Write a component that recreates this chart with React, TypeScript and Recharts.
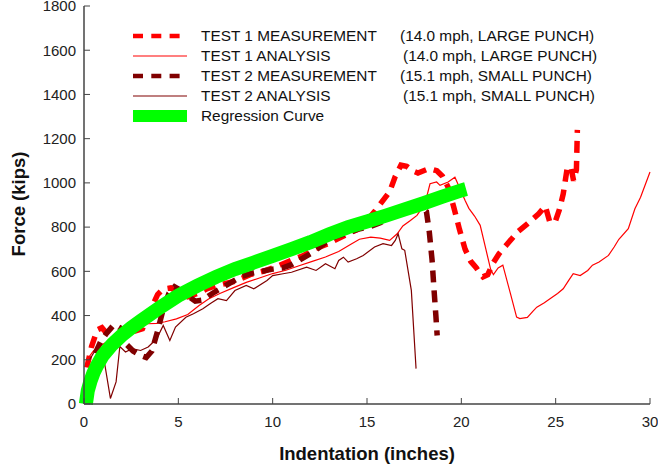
import { LineChart, Line, XAxis, YAxis, Legend } from 'recharts'

const FONT = '"Liberation Sans", Arial, sans-serif'

const xTicks = [0, 5, 10, 15, 20, 25, 30]
const yTicks = [0, 200, 400, 600, 800, 1000, 1200, 1400, 1600, 1800]

// TEST 1 MEASUREMENT (14.0 mph, large punch)
const t1mX = [0.15, 0.4, 0.7, 0.95, 1.2, 1.5, 1.9, 2.3, 2.7, 3.1, 3.5, 3.9, 4.2, 4.6, 5.0, 5.5, 6.0, 6.5, 7.0, 7.5, 8.0, 8.8, 9.5, 10.3, 11.0, 11.6, 12.2, 12.8, 13.4, 14.0, 14.5, 15.0, 15.4, 15.8, 16.2, 16.5, 16.8, 17.1, 17.4, 17.7, 18.0, 18.3, 18.7, 19.0, 19.3, 19.6, 19.9, 20.2, 20.5, 20.8, 21.0, 21.15, 21.4, 21.7, 22.0, 22.4, 22.7, 23.0, 23.5, 24.1, 24.45, 24.7, 25.0, 25.2, 25.4, 25.6, 25.8, 25.95, 26.1, 26.15]
const t1mY = [165, 260, 335, 345, 320, 300, 310, 325, 330, 340, 420, 495, 520, 525, 505, 485, 500, 520, 535, 545, 555, 585, 600, 625, 650, 670, 700, 720, 745, 770, 790, 830, 870, 915, 960, 1030, 1080, 1075, 1055, 1045, 1055, 1065, 1055, 1030, 980, 890, 790, 700, 645, 615, 590, 575, 585, 640, 680, 720, 750, 780, 815, 860, 895, 820, 830, 880, 950, 1060, 1075, 1010, 1060, 1240]

// TEST 1 ANALYSIS
const t1aX = [0.15, 0.5, 0.85, 1.2, 1.55, 2.0, 2.6, 3.0, 3.4, 3.85, 4.3, 4.9, 5.5, 6.1, 6.6, 7.2, 7.9, 8.6, 9.3, 10.0, 10.7, 11.4, 12.1, 12.8, 13.5, 14.1, 14.6, 15.2, 15.7, 16.2, 16.6, 16.9, 17.3, 17.65, 18.07, 18.34, 18.69, 18.87, 19.3, 19.66, 19.93, 20.2, 20.4, 20.7, 21.0, 21.3, 21.55, 21.7, 21.95, 22.2, 22.6, 22.93, 23.1, 23.5, 23.8, 24.0, 24.4, 24.7, 25.1, 25.4, 25.7, 25.93, 26.3, 26.7, 26.95, 27.3, 27.8, 28.1, 28.35, 28.85, 29.2, 29.5, 30.0]
const t1aY = [200, 240, 262, 280, 300, 325, 355, 362, 363, 365, 372, 385, 405, 445, 475, 500, 525, 550, 570, 590, 605, 625, 645, 665, 690, 720, 745, 755, 750, 740, 770, 805, 830, 853, 906, 996, 1004, 989, 1004, 1026, 974, 920, 885, 850, 808, 700, 610, 585, 615, 628, 500, 393, 386, 392, 420, 438, 458, 476, 500, 521, 560, 589, 581, 604, 628, 642, 672, 710, 745, 793, 883, 935, 1049]

// TEST 2 MEASUREMENT (15.1 mph, small punch)
const t2mX = [0.6, 0.9, 1.2, 1.6, 1.9, 2.25, 2.6, 3.0, 3.3, 3.6, 3.9, 4.2, 4.5, 4.8, 5.1, 5.5, 5.9, 6.3, 6.8, 7.3, 7.8, 8.3, 8.8, 9.4, 10.0, 10.5, 11.0, 11.6, 12.2, 12.8, 13.4, 13.9, 14.5, 15.1, 15.7, 16.3, 16.9, 17.4, 17.9, 18.15, 18.3, 18.45, 18.55, 18.65, 18.72]
const t2mY = [230, 285, 320, 360, 345, 270, 240, 220, 210, 240, 330, 430, 500, 530, 515, 490, 465, 470, 500, 525, 550, 575, 590, 600, 610, 615, 630, 660, 690, 730, 760, 770, 790, 800, 820, 850, 870, 880, 890, 870, 780, 650, 520, 400, 310]

// TEST 2 ANALYSIS
const t2aX = [0.3, 0.5, 0.8, 1.1, 1.4, 1.7, 1.9, 2.2, 2.55, 3.0, 3.4, 3.85, 4.2, 4.55, 4.85, 5.4, 5.8, 6.3, 6.7, 7.1, 7.55, 8.0, 8.6, 9.0, 9.7, 10.0, 10.55, 11.0, 11.8, 12.3, 12.8, 13.3, 13.5, 13.75, 14.0, 14.45, 14.8, 15.4, 15.85, 16.3, 16.5, 16.65, 16.85, 17.0, 17.35, 17.6]
const t2aY = [200, 230, 255, 180, 25, 100, 260, 235, 250, 242, 258, 295, 355, 287, 348, 392, 408, 431, 455, 476, 468, 513, 536, 521, 559, 581, 589, 596, 619, 604, 634, 612, 649, 664, 642, 657, 672, 710, 725, 717, 740, 770, 702, 695, 514, 160]

// Regression curve
const regX = [0.1, 0.2, 0.35, 0.5, 0.7, 1, 1.5, 2, 2.5, 3, 4, 5, 6, 7, 8, 9, 10, 11, 12, 13, 14, 15, 16, 17, 18, 19, 20, 20.25]
const regY = [0, 60, 105, 140, 175, 220, 270, 310, 345, 375, 435, 490, 535, 575, 610, 640, 670, 700, 732, 768, 800, 825, 852, 880, 908, 938, 966, 972]

const toPoints = (xs: number[], ys: number[]) => xs.map((x, i) => ({ x, y: ys[i] }))

const series = [
  { key: 't1m', name: 'TEST 1 MEASUREMENT', note: '(14.0 mph, LARGE PUNCH)', data: toPoints(t1mX, t1mY), color: '#ff0000', width: 5.5, dash: '12 8', legendWidth: 4.5, legendDash: '10 8.3', pad: 0 },
  { key: 't1a', name: 'TEST 1 ANALYSIS', note: '(14.0 mph, LARGE PUNCH)', data: toPoints(t1aX, t1aY), color: '#ff0000', width: 1.2, dash: undefined, legendWidth: 1.2, legendDash: undefined, pad: 3 },
  { key: 't2m', name: 'TEST 2 MEASUREMENT', note: '(15.1 mph, SMALL PUNCH)', data: toPoints(t2mX, t2mY), color: '#800000', width: 5.5, dash: '12 8', legendWidth: 4.5, legendDash: '10 8.3', pad: 0 },
  { key: 't2a', name: 'TEST 2 ANALYSIS', note: '(15.1 mph, SMALL PUNCH)', data: toPoints(t2aX, t2aY), color: '#800000', width: 1.2, dash: undefined, legendWidth: 1.2, legendDash: undefined, pad: 3 },
  { key: 'reg', name: 'Regression Curve', note: '', data: toPoints(regX, regY), color: '#00ff00', width: 14, dash: undefined, legendWidth: 12, legendDash: undefined, pad: 0 },
]

function LegendBox() {
  return (
    <div style={{ fontFamily: FONT, fontSize: 15.4, color: '#111', lineHeight: 1 }}>
      {series.map((s) => (
        <div key={s.key} style={{ display: 'flex', alignItems: 'center', height: 19.9 }}>
          <svg width={54} height={14} style={{ display: 'block' }}>
            <line x1={0} y1={7} x2={54} y2={7} stroke={s.color} strokeWidth={s.legendWidth} strokeDasharray={s.legendDash} />
          </svg>
          <span style={{ marginLeft: 14, width: 199, whiteSpace: 'nowrap' }}>{s.name}</span>
          <span style={{ paddingLeft: s.pad, whiteSpace: 'nowrap' }}>{s.note}</span>
        </div>
      ))}
    </div>
  )
}

const axisColor = '#444'

export default function App() {
  return (
    <div style={{ position: 'absolute', left: 0, top: 0, width: 658, height: 471, background: '#fff' }}>
      <LineChart width={658} height={471} margin={{ top: 6, right: 8, bottom: 37, left: 24 }}>
        <XAxis
          dataKey="x"
          type="number"
          domain={[0, 30]}
          ticks={xTicks}
          interval={0}
          height={30}
          tickSize={-6}
          tickMargin={18}
          axisLine={{ stroke: axisColor, strokeWidth: 1.5 }}
          tickLine={{ stroke: axisColor }}
          tick={{ fill: '#222', fontSize: 15, fontFamily: FONT }}
          label={{
            position: 'center',
            content: (p: any) => (
              <text x={p.viewBox.x + p.viewBox.width / 2} y={p.viewBox.y + 56} textAnchor="middle" fontFamily={FONT} fontSize={18.5} fontWeight="bold" fill="#111">
                Indentation (inches)
              </text>
            ),
          }}
        />
        <XAxis xAxisId="top" orientation="top" type="number" domain={[0, 30]} height={0} tick={false} tickLine={false} axisLine={{ stroke: axisColor, strokeWidth: 1.5 }} />
        <YAxis
          type="number"
          domain={[0, 1800]}
          ticks={yTicks}
          interval={0}
          width={60}
          tickSize={-6}
          tickMargin={14}
          axisLine={{ stroke: axisColor, strokeWidth: 1.5 }}
          tickLine={{ stroke: axisColor }}
          tick={{ fill: '#222', fontSize: 15, fontFamily: FONT }}
          label={{
            position: 'center',
            content: () => (
              <text x={24.5} y={204} transform="rotate(-90 24.5 204)" textAnchor="middle" fontFamily={FONT} fontSize={18.5} fontWeight="bold" fill="#111">
                Force (kips)
              </text>
            ),
          }}
        />
        <YAxis yAxisId="right" orientation="right" type="number" domain={[0, 1800]} width={0} tick={false} tickLine={false} axisLine={{ stroke: axisColor, strokeWidth: 1.5 }} />
        <Legend
          layout="vertical"
          align="center"
          verticalAlign="middle"
          wrapperStyle={{ left: 133, top: 26, width: 500, height: 100 }}
          content={() => <LegendBox />}
        />
        {series.map((s) => (
          <Line
            key={s.key}
            data={s.data}
            dataKey="y"
            name={s.name}
            type="linear"
            stroke={s.color}
            strokeWidth={s.width}
            strokeDasharray={s.dash}
            dot={false}
            activeDot={false}
            isAnimationActive={false}
          />
        ))}
      </LineChart>
    </div>
  )
}
